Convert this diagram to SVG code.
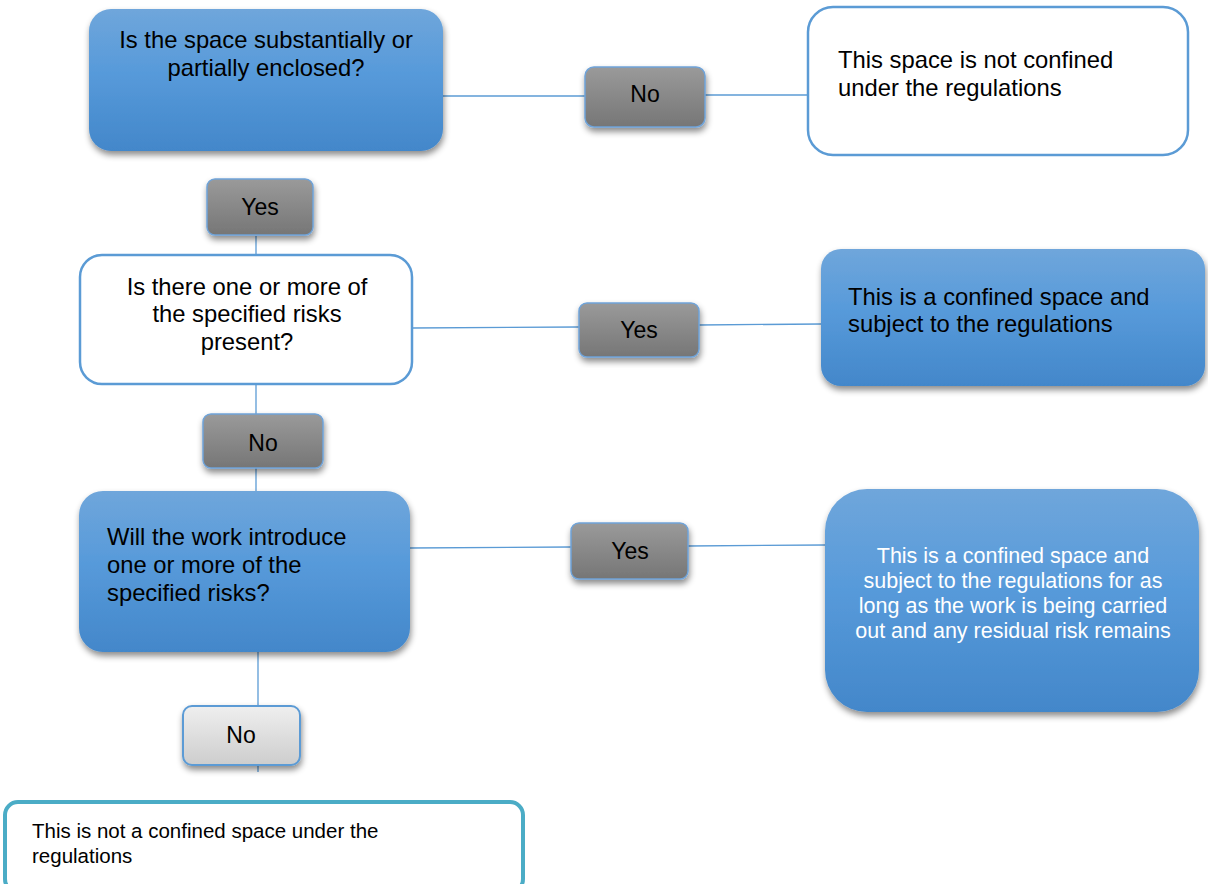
<svg xmlns="http://www.w3.org/2000/svg" width="1208" height="884" viewBox="0 0 1208 884">
<defs>
<linearGradient id="gBlue" x1="0" y1="0" x2="0" y2="1">
<stop offset="0" stop-color="#6fa6db"/>
<stop offset="0.45" stop-color="#579ada"/>
<stop offset="1" stop-color="#4387ca"/>
</linearGradient>
<linearGradient id="gGray" x1="0" y1="0" x2="0" y2="1">
<stop offset="0" stop-color="#9a9a9a"/>
<stop offset="1" stop-color="#767676"/>
</linearGradient>
<linearGradient id="gLight" x1="0" y1="0" x2="0" y2="1">
<stop offset="0" stop-color="#efefef"/>
<stop offset="1" stop-color="#cdcdcd"/>
</linearGradient>
<filter id="sh" x="-10%" y="-10%" width="125%" height="130%">
<feDropShadow dx="1" dy="4" stdDeviation="3" flood-color="#000" flood-opacity="0.45"/>
</filter>
</defs>
<style>
text{font-family:"Liberation Sans",Arial,sans-serif;fill:#000}
.t24{font-size:23.8px}
.t21{font-size:21.5px}
.t20{font-size:20.5px}
.t23{font-size:23px}
.wt{fill:#fff}
.blue{fill:url(#gBlue);filter:url(#sh)}
.white{fill:#fff;stroke:#5b9bd5;stroke-width:2.5}
.gray{fill:url(#gGray);stroke:#6fa3d8;stroke-width:1.5;filter:url(#sh)}
.light{fill:url(#gLight);stroke:#5b9bd5;stroke-width:2;filter:url(#sh)}
.conn line{stroke:#5b9bd5;stroke-width:1.3}
</style>
<g class="conn" id="connectors">
<line x1="443" y1="96" x2="585" y2="96"/>
<line x1="705" y1="95" x2="808" y2="95"/>
<line x1="256" y1="236" x2="256" y2="255"/>
<line x1="412" y1="328" x2="579" y2="327"/>
<line x1="699" y1="325" x2="821" y2="324"/>
<line x1="256" y1="384" x2="256" y2="414"/>
<line x1="256" y1="468" x2="256" y2="491"/>
<line x1="410" y1="548" x2="571" y2="547"/>
<line x1="688" y1="546" x2="825" y2="545"/>
<line x1="258" y1="652" x2="258" y2="706"/>
<line x1="258" y1="765" x2="258" y2="772"/>
</g>
<g id="q1">
<rect class="blue" x="89" y="9" width="354" height="142" rx="22"/>
<text class="t24" x="266" y="48" text-anchor="middle">Is the space substantially or</text>
<text class="t24" x="266" y="76" text-anchor="middle">partially enclosed?</text>
</g>
<g id="no1">
<rect class="gray" x="585" y="67" width="120" height="60" rx="9"/>
<text class="t23" x="645" y="102" text-anchor="middle">No</text>
</g>
<g id="r1">
<rect class="white" x="808" y="7" width="380" height="148" rx="25"/>
<text class="t24" x="838" y="68">This space is not confined</text>
<text class="t24" x="838" y="96">under the regulations</text>
</g>
<g id="yes1">
<rect class="gray" x="207" y="179" width="106" height="56" rx="8"/>
<text class="t23" x="260" y="215" text-anchor="middle">Yes</text>
</g>
<g id="q2">
<rect class="white" x="80" y="255" width="332" height="129" rx="22"/>
<text class="t24" x="247" y="295" text-anchor="middle">Is there one or more of</text>
<text class="t24" x="247" y="322" text-anchor="middle">the specified risks</text>
<text class="t24" x="247" y="350" text-anchor="middle">present?</text>
</g>
<g id="yes2">
<rect class="gray" x="579" y="303" width="120" height="54" rx="8"/>
<text class="t23" x="639" y="338" text-anchor="middle">Yes</text>
</g>
<g id="r2">
<rect class="blue" x="821" y="249" width="384" height="137" rx="20"/>
<text class="t24" x="848" y="305">This is a confined space and</text>
<text class="t24" x="848" y="332">subject to the regulations</text>
</g>
<g id="no2">
<rect class="gray" x="203" y="414" width="120" height="54" rx="8"/>
<text class="t23" x="263" y="451" text-anchor="middle">No</text>
</g>
<g id="q3">
<rect class="blue" x="79" y="491" width="331" height="161" rx="24"/>
<text class="t24" x="107" y="545">Will the work introduce</text>
<text class="t24" x="107" y="573">one or more of the</text>
<text class="t24" x="107" y="601">specified risks?</text>
</g>
<g id="yes3">
<rect class="gray" x="571" y="523" width="117" height="56" rx="8"/>
<text class="t23" x="630" y="559" text-anchor="middle">Yes</text>
</g>
<g id="r3">
<rect class="blue" x="825" y="489" width="374" height="223" rx="42"/>
<text class="t21 wt" x="1013" y="563" text-anchor="middle">This is a confined space and</text>
<text class="t21 wt" x="1013" y="588" text-anchor="middle">subject to the regulations for as</text>
<text class="t21 wt" x="1013" y="613" text-anchor="middle">long as the work is being carried</text>
<text class="t21 wt" x="1013" y="638" text-anchor="middle">out and any residual risk remains</text>
</g>
<g id="no3">
<rect class="light" x="183" y="706" width="117" height="59" rx="9"/>
<text class="t23" x="241" y="743" text-anchor="middle">No</text>
</g>
<g id="r4">
<rect x="5" y="802" width="518" height="90" rx="13" fill="#fff" stroke="#4bacc6" stroke-width="4"/>
<text class="t20" x="32" y="838">This is not a confined space under the</text>
<text class="t20" x="32" y="863">regulations</text>
</g>
</svg>
